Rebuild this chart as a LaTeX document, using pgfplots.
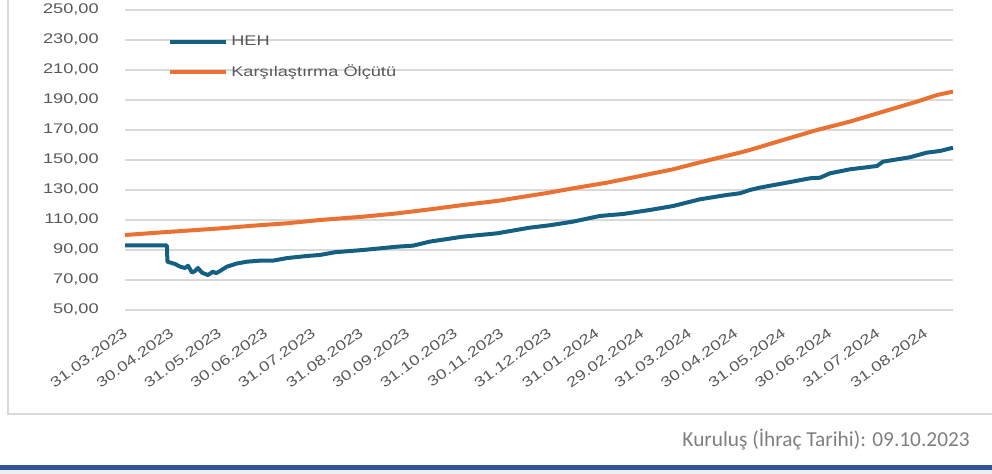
\documentclass[border=0pt]{standalone}
\usepackage{fontspec}
\setmainfont{Liberation Sans}
\newfontfamily\arialw[FakeStretch=1.3]{Liberation Sans}
\newfontfamily\calib{Carlito}
\usepackage{pgfplots}
\pgfplotsset{compat=1.18}
\definecolor{heh}{HTML}{156082}
\definecolor{kar}{HTML}{E97132}
\definecolor{gridc}{HTML}{D9D9D9}
\definecolor{tickc}{HTML}{595959}
\definecolor{footc}{HTML}{7F7F7F}
\definecolor{barc}{HTML}{2F5597}
\definecolor{stripc}{HTML}{EEEEEE}
\begin{document}
\begin{tikzpicture}
\path[use as bounding box] (0,0) rectangle (744pt,355.5pt);
\fill[stripc] (0,0) rectangle (744pt,3pt);
\fill[barc] (0,3pt) rectangle (744pt,6.75pt);
\draw[gridc, line width=1.1pt] (6pt,355.5pt) -- (6pt,45pt) -- (744pt,45pt);
\node[anchor=base east, inner sep=0pt, text=footc, font=\calib\fontsize{16pt}{19pt}\selectfont] at (727.5pt,20.5pt) {Kuruluş (İhraç Tarihi): 09.10.2023};
\begin{axis}[
  at={(93.75pt,123pt)}, anchor=south west,
  scale only axis, width=621pt, height=225pt,
  xmin=0, xmax=537, ymin=50, ymax=250,
  clip=false,
  axis line style={draw=none},
  tick style={draw=none},
  major tick length=0pt,
  ymajorgrids,
  grid style={gridc, line width=1pt},
  ytick={50,70,...,250},
  xtick={0,30,61,91,122,153,183,214,244,275,306,335,366,396,427,457,488,519},
  xticklabels={31.03.2023,30.04.2023,31.05.2023,30.06.2023,31.07.2023,31.08.2023,30.09.2023,31.10.2023,30.11.2023,31.12.2023,31.01.2024,29.02.2024,31.03.2024,30.04.2024,31.05.2024,30.06.2024,31.07.2024,31.08.2024},
  /pgf/number format/.cd, fixed, fixed zerofill, precision=2, use comma, assume math mode=true,
  /pgfplots/.cd,
  ticklabel style={font=\arialw\fontsize{10.5pt}{12pt}\selectfont, text=tickc, inner sep=0pt},
  yticklabel style={anchor=east, xshift=-19.5pt},
  xticklabel style={xshift=0.5pt, yshift=-15.75pt, rotate=36, anchor=east},
  legend style={draw=none, fill=none, at={(rel axis cs:0.0520,0.842)}, anchor=west,
    font=\arialw\fontsize{10.5pt}{12pt}\selectfont, text=tickc, inner sep=0pt,
    nodes={inner sep=2.25pt}, row sep=8.5pt},
  legend cell align=left,
  legend image code/.code={\draw[#1, line width=3pt] (0pt,0pt) -- (42pt,0pt);},
]
\addplot[heh, line width=3pt, line join=round] coordinates {
(0,93) (27.2,93) (27.5,82.2) (32.4,80.7) (35.7,78.9) (38.9,78) (40.9,79.5) (43.5,74.9)
(45.4,76) (47.3,78) (49.9,74.9) (53.8,73.3) (57.1,75.6) (59,74.5) (61.6,76) (66.1,78.9)
(72.6,81) (79.1,82.2) (87.5,82.9) (96,82.9) (105,84.6) (118,86) (126.5,86.7) (136.2,88.5)
(154.3,90) (176.4,92.2) (186.8,92.9) (197.8,95.6) (219.2,98.9) (241.2,101.1) (262.6,104.9)
(275.6,106.5) (290.5,108.9) (308,112.7) (323,114) (340.5,116.7) (355.4,119.3) (372.9,123.8)
(390.4,126.7) (398.8,127.8) (405.3,130) (411.8,131.6) (426.7,134.4) (444.2,137.8) (450.7,138.2)
(457.2,141.1) (470.2,143.8) (487.7,146) (491.6,148.9) (509,151.8) (520,154.9) (528.5,156) (537,158.2)
};
\addlegendentry{HEH}
\addplot[kar, line width=3pt, line join=round] coordinates {
(0,100) (24.6,101.8) (40.2,102.9) (61.6,104.4) (83,106.2) (105,107.8) (126.5,110) (154.3,112.2)
(176.4,114.4) (197.8,117.1) (219.2,120) (241.2,122.7) (262.6,126.2) (273.7,128) (290.5,131.1)
(312.6,134.9) (334,139.3) (355.4,143.8) (377.4,149.6) (398.8,154.9) (405.3,156.7) (426.7,163.3)
(448.8,170) (470.2,175.6) (491.6,182.2) (513.6,188.9) (526.6,193.3) (537,195.6)
};
\addlegendentry{Karşılaştırma Ölçütü}
\end{axis}
\end{tikzpicture}
\end{document}
